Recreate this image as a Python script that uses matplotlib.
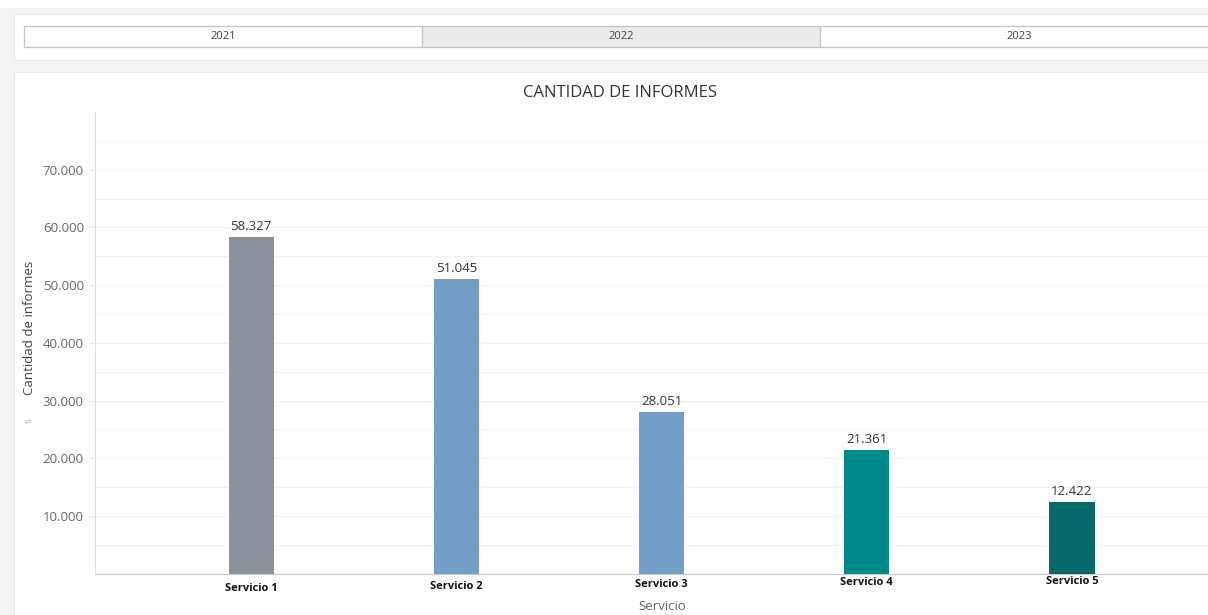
import matplotlib
matplotlib.use("Agg")
import matplotlib.pyplot as plt
from matplotlib.patches import Rectangle
from matplotlib.ticker import FuncFormatter, FixedLocator
import matplotlib.transforms as mtrans

categories = ["Servicio 1", "Servicio 2", "Servicio 3", "Servicio 4", "Servicio 5"]
values = [58327, 51045, 28051, 21361, 12422]
bar_colors = ["#8c929b", "#739ec8", "#739ec8", "#00898a", "#05696b"]
years = ["2021", "2022", "2023"]
yticks = [10000, 20000, 30000, 40000, 50000, 60000, 70000]
minor_grid = [5000, 15000, 25000, 35000, 45000, 55000, 65000, 75000]

W, H = 1208, 615
fig = plt.figure(figsize=(W / 100, H / 100), dpi=100)
fig.patch.set_facecolor("white")
plt.rcParams["font.family"] = ["Open Sans", "DejaVu Sans"]


def rect_px(x0, y0, x1, y1, **kw):
    r = Rectangle((x0 / W, 1 - y1 / H), (x1 - x0) / W, (y1 - y0) / H,
                  transform=fig.transFigure, **kw)
    fig.patches.append(r)
    return r


# page background and panels
rect_px(0, 8, W, H, facecolor="#f4f4f4", edgecolor="none", zorder=-10)
rect_px(14, 14, W + 5, 60, facecolor="white", edgecolor="#e8e8e8", lw=0.8, zorder=-9)
rect_px(14, 72, W + 5, H + 5, facecolor="white", edgecolor="#e8e8e8", lw=0.8, zorder=-9)

# year tabs
tab_edges = [24, 422, 820, W + 3]
tab_centers = [223, 621, 1019]
for i, yr in enumerate(years):
    fc = "#ebebeb" if yr == "2022" else "white"
    rect_px(tab_edges[i], 26, tab_edges[i + 1], 47, facecolor=fc,
            edgecolor="#c4c4c4", lw=0.9, zorder=-8)
    fig.text(tab_centers[i] / W, 1 - 36.5 / H, yr, ha="center", va="center",
             fontsize=8, color="#444444")

# axes
ax_left, ax_right, ax_top, ax_bottom = 95, W, 112, 573.7
ax = fig.add_axes([ax_left / W, 1 - ax_bottom / H, (ax_right - ax_left) / W,
                   (ax_bottom - ax_top) / H])
ax.set_facecolor("none")
x = list(range(len(categories)))
bars = ax.bar(x, values, width=0.22, color=bar_colors, zorder=3)
ax.set_xlim(-0.761, 4.663)
ax.set_ylim(0, 80000)

ax.set_yticks(yticks)
ax.yaxis.set_minor_locator(FixedLocator(minor_grid))
ax.yaxis.set_major_formatter(FuncFormatter(lambda v, p: f"{int(v):,}".replace(",", ".")))
ax.grid(axis="y", which="both", color="#f2f2f2", lw=0.9, zorder=0)
ax.tick_params(axis="y", which="major", length=4, color="#e8e8e8", labelsize=9.5,
               labelcolor="#666666", pad=4)
ax.tick_params(axis="y", which="minor", length=0)
ax.tick_params(axis="x", length=0, pad=3)
ax.set_xticks(x)
ax.set_xticklabels(categories, fontsize=8, fontweight="bold", color="#111111")

# slight per-label vertical shifts as in the reference
offsets = [-3.5, -2, -0.5, 0.5, 1.5]
for lab, dy in zip(ax.get_xticklabels(), offsets):
    lab.set_transform(lab.get_transform() +
                      mtrans.ScaledTranslation(0, dy / 72, fig.dpi_scale_trans))

for s in ["top", "right"]:
    ax.spines[s].set_visible(False)
ax.spines["left"].set_color("#dddddd")
ax.spines["bottom"].set_color("#cccccc")

for b, v in zip(bars, values):
    ax.annotate(f"{v:,}".replace(",", "."), (b.get_x() + b.get_width() / 2, v),
                xytext=(0, 3), textcoords="offset points", ha="center", va="bottom",
                fontsize=9.5, color="#333333")

fig.text(620 / W, 1 - 93 / H, "CANTIDAD DE INFORMES", ha="center", va="center",
         fontsize=12, color="#333333")
fig.text(30 / W, 1 - 328 / H, "Cantidad de informes", ha="center", va="center",
         rotation=90, fontsize=9.5, color="#444444")
fig.text(30 / W, 1 - 421 / H, "\u21c5", ha="center", va="center", rotation=90,
         fontsize=6, color="#bbbbbb")
fig.text(662 / W, 1 - 607 / H, "Servicio", ha="center", va="center",
         fontsize=9.5, color="#666666")

fig.savefig("out.png", dpi=100)
